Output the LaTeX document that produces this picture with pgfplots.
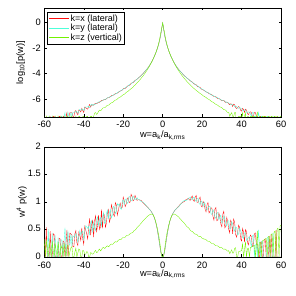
\documentclass[border=0pt]{standalone}
\usepackage{fontspec}
\setmainfont{Liberation Sans}
\usepackage{pgfplots}
\pgfplotsset{compat=1.18}
\usepackage{pgfplotstable}
\definecolor{cx}{rgb}{1,0.05,0.05}
\definecolor{cy}{rgb}{0.3,1,0.85}
\definecolor{cz}{rgb}{0.45,0.95,0}

\pgfplotstableread{
w tx ty tz bx by bz
-60 -9 -9 -7.35 0 0 0.33
-59.5 -9 -9 -9 0 0 0
-59 -7.35 -9 -7.35 0.542 0 0.31
-58.5 -9 -9 -7.6 0 0 0.16
-58 -9 -7.35 -9 0 0.506 0
-57.5 -9 -9 -7.35 0 0 0.26
-57 -7.35 -9 -7.6 0.472 0 0.15
-56.5 -9 -9 -9 0 0 0
-56 -9 -7.35 -7.35 0 0.44 0.29
-55.5 -7.35 -9 -7.6 0.424 0 0.12
-55 -7.35 -9 -9 0.409 0 0
-54.5 -9 -7.35 -7.35 0 0.394 0.24
-54 -9 -9 -7.6 0 0 0.12
-53.5 -9 -9 -9 0 0 0
-53 -9 -7.35 -7.35 0 0.353 0.27
-52.5 -7.35 -9 -7.6 0.34 0 0.10
-52 -7.35 -9 -9 0.327 0 0
-51.5 -9 -7.35 -7.35 0 0.314 0.22
-51 -9 -7.35 -7.6 0 0.302 0.14
-50.5 -7.35 -9 -9 0.291 0 0
-50 -7.35 -7.35 -7.35 0.279 0.279 0.25
-49.5 -9 -7.05 -7.6 0 0.536 0.11
-49 -7.35 -9 -9 0.258 0 0
-48.5 -7.05 -7.35 -7.35 0.494 0.247 0.2
-48 -9 -7.05 -7.35 0 0.474 0.22
-47.5 -7.35 -7.35 -9 0.228 0.228 0
-47 -7.05 -7.35 -7.6 0.436 0.218 0.10
-46.5 -7.05 -7.05 -7.35 0.418 0.418 0.17
-46 -7.05 -7.35 -7.35 0.40 0.20 0.19
-45.5 -7.35 -7.05 -9 0.192 0.384 0
-45 -7.35 -7.05 -9 0.183 0.366 0
-44.5 -6.97 -7.05 -7.6 0.42 0.36 0.09
-44 -6.89 -6.94 -7.35 0.48 0.43 0.16
-43.5 -7.10 -6.98 -9 0.26 0.37 0
-43 -7.22 -7.11 -7.7 0.21 0.27 0.07
-42.5 -6.85 -6.92 -7.35 0.45 0.38 0.146
-42 -6.90 -6.81 -7.35 0.39 0.48 0.13
-41.5 -7.00 -6.88 -9 0.30 0.40 0
-41 -6.73 -6.80 -9 0.53 0.45 0
-40.5 -6.90 -6.76 -7.35 0.33 0.47 0.12
-40 -7.04 -6.91 -7.35 0.23 0.315 0.11
-39.5 -6.62 -6.70 -7.7 0.56 0.45 0.05
-39 -6.68 -6.61 -7.7 0.49 0.57 0.05
-38.5 -6.74 -6.63 -7.35 0.42 0.55 0.098
-38 -6.79 -6.60 -7.35 0.33 0.52 0.09
-37.5 -6.56 -6.55 -9 0.55 0.56 0
-37 -6.42 -6.67 -9 0.70 0.40 0
-36.5 -6.62 -6.48 -7.35 0.40 0.61 0.08
-36 -6.45 -6.40 -7.35 0.59 0.66 0.07
-35.5 -6.44 -6.50 -7.5 0.66 0.45 0.05
-35 -6.48 -6.40 -7.35 0.36 0.63 0.06
-34.5 -6.38 -6.42 -7.1 0.66 0.53 0.10
-34 -6.32 -6.39 -7.05 0.75 0.48 0.12
-33.5 -6.35 -6.31 -7.20 0.45 0.68 0.08
-33 -6.31 -6.26 -7.12 0.58 0.73 0.09
-32.5 -6.23 -6.26 -6.95 0.76 0.57 0.125
-32 -6.25 -6.19 -6.86 0.50 0.69 0.145
-31.5 -6.19 -6.16 -6.90 0.55 0.72 0.11
-31 -6.10 -6.17 -6.85 0.865 0.565 0.13
-30.5 -6.12 -6.10 -6.72 0.52 0.73 0.165
-30 -6.06 -6.05 -6.67 0.79 0.81 0.175
-29.5 -6.03 -6.05 -6.68 0.76 0.61 0.155
-29 -6.04 -6.02 -6.63 0.54 0.63 0.165
-28.5 -5.97 -5.95 -6.54 0.62 0.79 0.195
-28 -5.90 -5.89 -6.48 0.80 0.85 0.205
-27.5 -5.87 -5.89 -6.48 0.86 0.70 0.185
-27 -5.87 -5.83 -6.42 0.63 0.80 0.20
-26.5 -5.81 -5.79 -6.34 0.70 0.86 0.225
-26 -5.73 -5.78 -6.29 0.95 0.71 0.235
-25.5 -5.71 -5.73 -6.27 0.88 0.76 0.23
-25 -5.69 -5.66 -6.21 0.78 0.92 0.24
-24.5 -5.65 -5.63 -6.13 0.74 0.90 0.265
-24 -5.57 -5.60 -6.07 0.99 0.79 0.28
-23.5 -5.54 -5.56 -6.06 0.95 0.83 0.27
-23 -5.53 -5.48 -6.00 0.76 0.97 0.28
-22.5 -5.47 -5.45 -5.92 0.84 0.94 0.305
-22 -5.41 -5.40 -5.87 0.93 0.965 0.315
-21.5 -5.36 -5.38 -5.84 0.98 0.89 0.315
-21 -5.33 -5.33 -5.78 0.885 0.865 0.32
-20.5 -5.29 -5.25 -5.71 0.90 1.01 0.345
-20 -5.20 -5.21 -5.65 1.09 1.04 0.355
-19.5 -5.15 -5.18 -5.62 1.03 0.95 0.355
-19 -5.16 -5.10 -5.56 0.915 1.035 0.36
-18.5 -5.09 -5.05 -5.48 0.96 1.06 0.385
-18 -5.00 -5.03 -5.42 1.05 0.97 0.395
-17.5 -4.94 -4.97 -5.38 1.08 1.00 0.395
-17 -4.92 -4.87 -5.31 0.99 1.10 0.405
-16.5 -4.87 -4.83 -5.24 1.00 1.09 0.425
-16 -4.76 -4.81 -5.18 1.14 1.02 0.435
-15.5 -4.72 -4.75 -5.12 1.10 1.03 0.44
-15 -4.70 -4.66 -5.05 1.02 1.11 0.455
-14.5 -4.63 -4.61 -4.96 1.04 1.08 0.48
-14 -4.53 -4.57 -4.89 1.12 1.04 0.49
-13.5 -4.49 -4.51 -4.81 1.07 1.04 0.505
-13 -4.44 -4.42 -4.73 1.03 1.08 0.535
-12.5 -4.37 -4.37 -4.65 1.04 1.05 0.55
-12 -4.30 -4.30 -4.56 1.04 1.05 0.57
-11 -4.16 -4.16 -4.38 1.03 1.01 0.61
-10 -4.00 -4.00 -4.19 0.99 1.00 0.655
-9 -3.83 -3.83 -3.98 0.955 0.965 0.69
-8 -3.65 -3.65 -3.75 0.92 0.92 0.73
-7 -3.44 -3.44 -3.50 0.88 0.88 0.76
-6 -3.19 -3.19 -3.22 0.84 0.84 0.78
-5.5 -3.05 -3.05 -3.07 0.81 0.81 0.78
-5 -2.90 -2.90 -2.91 0.78 0.78 0.77
-4.5 -2.74 -2.74 -2.74 0.74 0.74 0.74
-4 -2.57 -2.57 -2.56 0.69 0.69 0.70
-3.5 -2.38 -2.38 -2.37 0.63 0.63 0.64
-3 -2.17 -2.17 -2.15 0.55 0.55 0.57
-2.5 -1.94 -1.94 -1.90 0.45 0.45 0.49
-2 -1.67 -1.67 -1.60 0.34 0.34 0.40
-1.5 -1.36 -1.36 -1.26 0.22 0.22 0.28
-1 -1.00 -1.00 -0.82 0.10 0.10 0.15
-0.5 -0.49 -0.49 -0.45 0.02 0.02 0.022
0 -0.02 -0.02 -0.01 0 0 0
0.5 -0.49 -0.49 -0.45 0.02 0.02 0.022
1 -1.00 -1.00 -0.82 0.10 0.10 0.15
1.5 -1.36 -1.36 -1.26 0.22 0.22 0.28
2 -1.67 -1.67 -1.60 0.34 0.34 0.40
2.5 -1.94 -1.94 -1.90 0.45 0.45 0.49
3 -2.17 -2.17 -2.15 0.55 0.55 0.57
3.5 -2.38 -2.38 -2.37 0.63 0.63 0.64
4 -2.57 -2.57 -2.56 0.69 0.69 0.70
4.5 -2.74 -2.74 -2.74 0.74 0.74 0.74
5 -2.90 -2.90 -2.91 0.78 0.78 0.77
5.5 -3.05 -3.05 -3.07 0.81 0.81 0.78
6 -3.19 -3.19 -3.22 0.84 0.84 0.78
7 -3.44 -3.44 -3.50 0.88 0.88 0.76
8 -3.65 -3.65 -3.75 0.92 0.91 0.73
9 -3.83 -3.83 -3.98 0.96 0.95 0.69
10 -4.00 -4.00 -4.19 0.99 1.00 0.65
11 -4.16 -4.16 -4.38 1.01 1.03 0.615
12 -4.30 -4.30 -4.56 1.05 1.03 0.565
12.5 -4.37 -4.37 -4.65 1.05 1.04 0.545
13 -4.42 -4.43 -4.73 1.07 1.06 0.535
13.5 -4.50 -4.49 -4.81 1.04 1.07 0.515
14 -4.57 -4.55 -4.89 1.03 1.09 0.485
14.5 -4.61 -4.62 -4.97 1.08 1.05 0.47
15 -4.66 -4.69 -5.04 1.11 1.04 0.465
15.5 -4.75 -4.73 -5.11 1.03 1.08 0.45
16 -4.82 -4.78 -5.18 1.01 1.09 0.425
16.5 -4.83 -4.86 -5.25 1.09 1.03 0.415
17 -4.87 -4.91 -5.31 1.12 1.01 0.415
17.5 -4.98 -4.95 -5.37 0.99 1.06 0.405
18 -5.02 -4.99 -5.43 0.99 1.07 0.38
18.5 -5.05 -5.08 -5.50 1.06 0.97 0.375
19 -5.08 -5.14 -5.55 1.09 0.955 0.375
19.5 -5.20 -5.16 -5.60 0.93 1.02 0.365
20 -5.24 -5.21 -5.66 0.91 0.99 0.34
20.5 -5.28 -5.26 -5.73 1.01 0.92 0.335
21 -5.31 -5.30 -5.78 0.98 1.00 0.325
21.5 -5.38 -5.36 -5.82 0.87 0.97 0.325
22 -5.44 -5.42 -5.87 0.82 0.865 0.315
22.5 -5.45 -5.47 -5.94 0.95 0.85 0.295
23 -5.48 -5.50 -5.99 0.99 0.905 0.285
23.5 -5.57 -5.54 -6.03 0.80 0.92 0.285
24 -5.60 -5.57 -6.08 0.83 0.92 0.275
24.5 -5.63 -5.65 -6.15 0.90 0.79 0.255
25 -5.66 -5.70 -6.20 0.88 0.77 0.245
25.5 -5.74 -5.71 -6.24 0.74 0.86 0.245
26 -5.79 -5.75 -6.29 0.67 0.82 0.235
26.5 -5.79 -5.81 -6.36 0.87 0.73 0.215
27 -5.81 -5.86 -6.41 0.90 0.70 0.205
27.5 -5.91 -5.87 -6.44 0.66 0.80 0.205
28 -5.95 -5.89 -6.49 0.68 0.81 0.20
28.5 -5.95 -5.98 -6.56 0.80 0.68 0.185
29 -5.99 -6.00 -6.61 0.73 0.73 0.17
29.5 -6.07 -6.03 -6.63 0.60 0.76 0.175
30 -6.13 -6.10 -6.67 0.55 0.62 0.17
30.5 -6.09 -6.12 -6.75 0.78 0.64 0.15
31 -6.09 -6.12 -6.82 0.83 0.745 0.14
31.5 -6.22 -6.16 -6.83 0.53 0.70 0.145
32 -6.25 -6.22 -6.87 0.56 0.61 0.14
32.5 -6.22 -6.27 -6.97 0.72 0.56 0.12
33 -6.27 -6.28 -7.05 0.64 0.66 0.105
33.5 -6.37 -6.30 -7.04 0.50 0.66 0.115
34 -6.44 -6.38 -7.35 0.44 0.515 0.06
34.5 -6.36 -6.42 -7.18 0.67 0.52 0.095
35 -6.40 -6.40 -7.06 0.62 0.64 0.13
35.5 -6.58 -6.43 -7.35 0.42 0.60 0.071
36 -6.39 -6.51 -7.35 0.69 0.515 0.075
36.5 -6.45 -6.58 -7.05 0.63 0.47 0.158
37 -6.66 -6.53 -7.05 0.41 0.55 0.168
37.5 -6.74 -6.58 -9 0.36 0.53 0
38 -6.66 -6.71 -9 0.45 0.40 0
38.5 -6.58 -6.72 -7.35 0.58 0.42 0.098
39 -6.63 -6.65 -7.35 0.54 0.525 0.103
39.5 -6.87 -6.71 -7.35 0.33 0.48 0.109
40 -6.94 -6.76 -7.35 0.29 0.44 0.114
40.5 -6.72 -6.87 -7.05 0.52 0.36 0.24
41 -6.80 -6.92 -9 0.45 0.34 0
41.5 -7.04 -6.83 -7.35 0.27 0.44 0.133
42 -6.79 -6.84 -7.05 0.50 0.44 0.278
42.5 -6.85 -7.04 -9 0.46 0.30 0
43 -7.12 -7.05 -7.35 0.26 0.31 0.153
43.5 -7.21 -7.00 -7.35 0.22 0.36 0.16
44 -7.05 -7.01 -9 0.34 0.37 0
44.5 -6.99 -7.16 -7.35 0.40 0.27 0.175
45 -7.05 -7.35 -7.35 0.366 0.183 0.183
45.5 -7.35 -7.05 -7.35 0.192 0.384 0.192
46 -7.35 -7.05 -7.35 0.20 0.40 0.20
46.5 -7.05 -9 -7.35 0.418 0 0.209
47 -7.05 -7.35 -9 0.436 0.218 0
47.5 -7.35 -7.35 -7.35 0.228 0.228 0.228
48 -7.35 -9 -7.05 0.237 0 0.474
48.5 -9 -7.05 -9 0 0.494 0
49 -9 -7.35 -7.35 0 0.258 0.258
49.5 -7.35 -9 -7.35 0.268 0 0.268
50 -7.35 -7.35 -9 0.279 0.279 0
50.5 -9 -7.35 -7.35 0 0.291 0.291
51 -9 -9 -7.35 0 0 0.302
51.5 -7.35 -9 -7.35 0.314 0 0.314
52 -7.35 -9 -7.35 0.327 0 0.327
52.5 -9 -9 -7.35 0 0 0.34
53 -9 -7.35 -9 0 0.353 0
53.5 -9 -7.35 -7.35 0 0.366 0.366
54 -7.35 -9 -7.35 0.38 0 0.38
54.5 -9 -9 -9 0 0 0
55 -7.35 -9 -7.35 0.409 0 0.409
55.5 -9 -9 -7.35 0 0 0.424
56 -9 -7.35 -9 0 0.44 0
56.5 -9 -9 -7.35 0 0 0.456
57 -9 -9 -7.35 0 0 0.472
57.5 -7.35 -9 -9 0.489 0 0
58 -9 -9 -7.35 0 0 0.506
58.5 -9 -9 -7.35 0 0 0.524
59 -9 -9 -9 0 0 0
59.5 -9 -9 -7.35 0 0 0.56
60 -9 -9 -7.35 0 0 0.579
}\data

\pgfplotsset{
  myax/.style={
    scale only axis,
    width=236.7pt,
    xmin=-60, xmax=60,
    xtick={-60,-40,-20,0,20,40,60},
    tick align=inside,
    major tick length=2.5pt,
    axis line style={line width=0.5pt},
    every tick/.style={black, line width=0.5pt},
    font=\fontsize{9.3}{11}\selectfont,
    /pgf/number format/assume math mode=true,
    xlabel={w=a\textsubscript{k}/a\textsubscript{k,rms}},
    ylabel style={at={(axis description cs:-0.1,0.5)}, anchor=center},
    clip=true,
  },
}

\begin{document}
\begin{tikzpicture}
\path[use as bounding box] (0pt,0pt) rectangle (295pt,296pt);
\begin{axis}[myax,
  at={(44.3pt,179pt)}, anchor=south west,
  height=109pt,
  ymin=-7.4, ymax=1.15,
  ytick={-6,-4,-2,0},
  ylabel={log\textsubscript{10}[p(w)]},
  xlabel style={at={(axis description cs:0.5,-0.17)}, anchor=center},
  legend cell align=left,
  legend style={at={(0,1)}, anchor=north west, xshift=3pt, yshift=-4pt,
    draw=black, line width=0.5pt, fill=white,
    font=\fontsize{9}{10}\selectfont, inner sep=1pt, row sep=-1.5pt,
    nodes={inner sep=1.5pt}},
  legend image code/.code={\draw[#1,line width=0.6pt] (0pt,0pt) -- (20pt,0pt);},
]
\addplot[cx, line width=0.35pt] table[x=w, y=tx]{\data};
\addlegendentry{k=x (lateral)}
\addplot[cy, line width=0.35pt] table[x=w, y=ty]{\data};
\addlegendentry{k=y (lateral)}
\addplot[cz, line width=0.35pt] table[x=w, y=tz]{\data};
\addlegendentry{k=z (vertical)}
\end{axis}
\begin{axis}[myax,
  at={(44.3pt,39pt)}, anchor=south west,
  height=110pt,
  ymin=0, ymax=2,
  ytick={0,0.5,1,1.5,2},
  yticklabels={0,0.5,1,1.5,2},
  yticklabel style={yshift=0.8pt},
  xticklabel style={yshift=-1.2pt},
  ylabel={w\textsuperscript{4} p(w)},
  ylabel style={at={(axis description cs:-0.095,0.5)}, anchor=center},
  xlabel style={at={(axis description cs:0.5,-0.155)}, anchor=center},
]
\addplot[cx, line width=0.35pt] table[x=w, y=bx]{\data};
\addplot[cy, line width=0.35pt] table[x=w, y=by]{\data};
\addplot[cz, line width=0.35pt] table[x=w, y=bz]{\data};
\end{axis}
\end{tikzpicture}
\end{document}
